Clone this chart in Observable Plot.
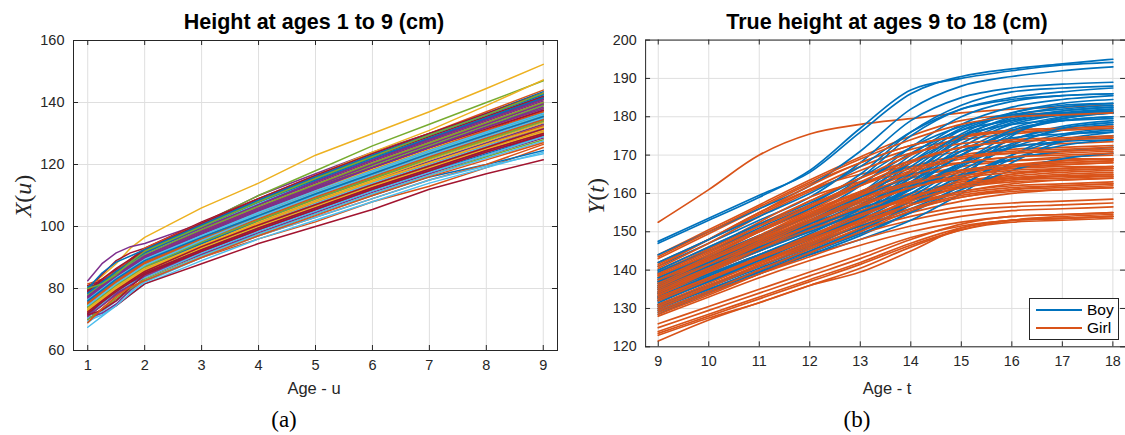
<!DOCTYPE html>
<html><head><meta charset="utf-8">
<script src="https://cdn.jsdelivr.net/npm/d3@7"></script>
<script src="https://cdn.jsdelivr.net/npm/@observablehq/plot@0.6"></script>
<style>
html,body{margin:0;padding:0;background:#fff}
body{width:1125px;height:435px;overflow:hidden;position:relative;font-family:"Liberation Sans",Arial,sans-serif;color:#262626}
.panel{position:absolute;top:0}
.title{position:absolute;top:10px;font-weight:bold;font-size:21.5px;color:#000;transform:translateX(-50%);white-space:nowrap;line-height:1.15}
.xlab{position:absolute;top:379px;font-size:16.5px;color:#262626;transform:translateX(-50%);white-space:nowrap;line-height:1.15}
.ylab{position:absolute;font-family:"Liberation Serif","Times New Roman",serif;font-size:24px;color:#262626;transform:translate(-50%,-50%) rotate(-90deg);white-space:nowrap}
.ylab i{font-style:italic}
.cap{position:absolute;top:407px;font-family:"Liberation Serif","Times New Roman",serif;font-size:23px;color:#000;transform:translateX(-50%);line-height:1.15}
.legend{position:absolute;left:1029px;top:298px;width:88px;height:40px;border:1px solid #262626;background:#fff;font-size:15.5px;color:#000}
.legend .row{position:absolute;left:6px;height:18px;display:flex;align-items:center}
.legend .sw{width:46px;height:2px;margin-right:5px}
</style>
</head><body>
<div id="left" class="panel" style="left:0"></div>
<div id="right" class="panel" style="left:562px"></div>
<div class="title" style="left:314px">Height at ages 1 to 9 (cm)</div>
<div class="title" style="left:887px">True height at ages 9 to 18 (cm)</div>
<div class="xlab" style="left:314px">Age - u</div>
<div class="xlab" style="left:887px">Age - t</div>
<div class="ylab" style="left:23px;top:196px"><i>X</i>(<i>u</i>)</div>
<div class="ylab" style="left:596px;top:196px"><i>Y</i>(<i>t</i>)</div>
<div class="cap" style="left:284px">(a)</div>
<div class="cap" style="left:857px">(b)</div>
<div class="legend">
  <div class="row" style="top:2px"><div class="sw" style="background:#0072BD"></div>Boy</div>
  <div class="row" style="top:20px"><div class="sw" style="background:#D95319"></div>Girl</div>
</div>
<script>
// ---------- data ----------
const matlabColors = ["#0072BD","#D95319","#EDB120","#7E2F8E","#77AC30","#4DBEEE","#A2142F"];
const leftAges = [1,1.25,1.5,1.75,2,3,4,5,6,7,8,9];
const leftXTicks = [1,2,3,4,5,6,7,8,9];
const leftYTicks = [60,80,100,120,140,160];
const leftHeights = [
[76,77.5,81,85.5,88,97,105,112,119,126,132,139],
[70,73,76.5,79.5,82.5,90,96,101.5,108,113,119,125.5],
[80.5,84,88,93,96.5,106,114,123,130,137,144.5,152.3],
[82.5,88,91.5,93.5,94.5,101,110,117,124,130,136,142],
[79,82,85.5,89,92,101,110,118,126,133,140,147],
[67.5,71,74.5,78,81.5,89,96,102,108,114,119,124],
[71.5,72,74.5,78,81.5,88,94.5,100,105.5,112,117,121.5],
[73,76,79,82,85,91,97.5,104,110,116,120,124.5],
[72,75,78,81,84,91,97,103,109,115,120,126.5],
[78,81.5,85,88.5,92,100,108,116.5,124,131,139,147.3],
[78,81,84,87,90,99,107,114.5,121.5,128,134.5,141],
[74,77,80,83,86,94,101,108,115,121,127,133],
[69,72.5,76,79,82,90,97,103,109,115,119.5,123.5],
[75,76.5,80,85,88,95.5,103,110,117,123.5,130,136],
[73.5,76.5,79.5,82.5,85.5,93,100,106.5,113,119,125,131],
[77,80,83,86.5,89.5,98,106,113,120,126.5,133,139.5],
[79.5,81,84,88,92,100.5,108.5,115.5,122.5,129,135.5,142.5],
[72.5,75.5,78.5,81.5,84.5,92,99,105.5,112,118,124,129.5],
[76.5,79.5,82.5,85.5,88.5,96,103.5,110.5,117.5,124,130.5,137],
[74.5,77.5,81,84,87,95,102.5,109.5,116,122.5,128.5,134.5],
[80,84.5,89,91.5,93,101.5,109,116,123,129.5,136,143],
[71.5,75,78,81,84,91.5,98.5,105,111.5,117.5,123.5,129],
[75.5,78.5,81.5,84.5,87.5,95,102,109,116,122.5,129,135.5],
[77.5,80.5,84,87,90,98.5,106.5,114,121,127.5,134,141],
[73,76,79.5,82.5,85.5,93.5,100.5,107,113.5,120,126,132],
[78.5,80,83,87,91,99.5,107.5,115,122,128.5,135,142],
[74,77,80.5,83.5,86.5,94.5,101.5,108.5,115,121.5,127.5,133.5],
[76,79,82.5,85.5,88.5,96.5,104,111,118,124.5,131,137.5],
[72,75.5,79,82,85,92.5,99.5,106,112.5,118.5,124.5,130],
[79,82,85.5,88.5,91.5,100,108,115,122,128.5,135,141.5],
[75,78,81,84,87,95,102,109,115.5,122,128,134],
[70.5,72,75,79.5,83.5,91,98,104.5,111,117,123,128.5],
[77,80,83.5,86.5,89.5,97.5,105,112,119,125.5,132,138.5],
[73.5,77,80,83,86,94,101,107.5,114,120.5,126.5,132.5],
[81,82.5,85,89,92.5,100,107.5,114.5,121.5,128,134.5,141],
[74.5,78,81,84,87,95.5,103,110,117,123.5,130,136.5],
[76.5,80,83,86,89,97,104.5,111.5,118.5,125,131.5,138],
[71,74.5,78,81,84,92,99,105.5,112,118,124,130],
[78,81,84.5,87.5,90.5,99,107,114,121,127.5,134,140.5],
[75.5,79,82,85,88,96,103.5,110.5,117,123.5,129.5,135.5],
[73,76.5,80,83,86,93.5,100.5,107.5,114,120,126,132.5],
[79.5,82.5,86,89,92,100,107.5,115,122,128.5,135,141.5],
[77.5,80.5,83.5,86.5,89.5,97.5,104.5,111.5,118,124.5,130.5,136.5],
[72.5,77,80.5,83,85,93,100,106.5,113,119,125,131],
[76,79.5,83,86,89,97,104.5,111.5,118.5,125,131.5,138],
[74,77.5,81,84,87,94.5,101.5,108.5,115,121,127,133],
[70,73.5,77,80,83,90.5,97.5,104,110.5,116.5,122.5,128],
[78,81.5,85,88,91,99.5,107.5,115,122,129,135.5,142.5],
[75,78.5,82,85,88,96,103,110,116.5,123,129,135],
[80.5,82,85,89,92.5,101,108.5,116,123,129.5,136.5,143.5],
[73.5,77,80.5,83.5,86.5,94,101,108,114.5,120.5,126.5,132.5],
[76.5,79.5,83,86,89,96.5,103.5,110.5,117,123.5,129.5,135.5],
[71.5,75,78.5,81.5,84.5,92.5,99.5,106,112.5,118.5,124.5,130.5],
[77,80.5,84,87,90,98,105.5,112.5,119.5,126,132.5,139],
[74.5,78,81.5,84.5,87.5,95,102,109,115.5,121.5,127.5,133.5],
[79,82.5,86,89,92,100.5,108,115.5,122.5,129,135.5,142],
[72,75.5,79,82,85,93,100,107,113.5,119.5,125.5,131.5],
[75.5,79,82.5,85.5,88.5,96.5,104,111,118,124.5,131,137],
[73,76.5,80,83,86,94,101.5,108.5,115,121.5,127.5,133.5],
[78.5,82,85.5,88.5,91.5,99.5,107,114.5,121.5,128,134.5,141],
[76,79.5,83,86,89,97.5,105.5,113,120,126.5,133,139.5],
[70.5,75,79,81.5,83.5,91.5,98.5,105,111.5,117.5,123,129],
[77.5,81,84,87,90,98,105.5,112.5,119,125.5,131.5,137.5],
[74,77.5,81,84,87,95,102.5,109.5,116,122.5,128.5,134.5],
[81.5,83,85.5,89.5,93,101,109,116.5,123.5,130,137,144],
[72.5,76,79.5,82.5,85.5,93,100,106.5,113,119,125,130.5],
[76.5,80,83.5,86.5,89.5,97.5,105,112,119,125.5,132,138.5],
[75,78.5,82,85,88,96,103.5,110.5,117.5,124,130,136],
[69.5,71.5,74.5,78.5,82.5,90.5,97.5,104,110.5,116.5,122,127.5],
[79.5,83,86.5,89.5,92.5,101,109,116.5,123.5,130,136.5,143],
[73.5,77,80.5,83.5,86.5,94.5,102,109,115.5,122,128,134],
[77,80.5,84,87,90,98.5,106,113.5,120.5,127,133.5,140],
[74.5,78,81.5,84.5,87.5,95.5,102.5,109.5,116,122,128,134],
[71,74.5,78,81,84,92,99,105.5,112,118,124,129.5],
[78,81.5,85,88,91,99,106.5,113.5,120.5,127,133.5,140],
[76,79.5,83,86,89,97,104,111,117.5,124,130,136],
[72,75.5,79,82,85,92.5,99.5,106,112.5,118.5,124.5,130],
[80,85,88.5,90.5,92.5,100.5,108.5,116,123,129.5,136,142.5],
[75.5,79,82.5,85.5,88.5,96,103,110,116.5,123,129,135],
[73,76.5,80,83,86,93.5,100.5,107,113.5,119.5,125.5,131],
[77.5,81,84.5,87.5,90.5,98.5,106,113,120,126.5,133,139.5],
[74,77.5,81,84,87,95,102,109,115.5,122,128,134],
[76.5,80,83.5,86.5,89.5,97,104.5,111.5,118,124.5,130.5,136.5],
[71.5,73,76,80.5,84.5,92,99,105.5,112,118,124,129.5],
[78.5,82,85.5,88.5,91.5,100,108,115,122,128.5,135,141.5],
[75,78.5,82,85,88,95.5,102.5,109.5,116,122.5,128.5,134.5],
[73.5,77,80.5,83.5,86.5,94,101,108,114.5,120.5,126.5,132],
[77,80.5,84,87,90,98,105.5,112.5,119,125.5,132,138],
[80,81.5,84.5,88.5,92,100,108,115.5,122.5,129.5,136,143],
[74.5,78,81.5,84.5,87.5,95.5,103,110,116.5,123,129,135],
[72.5,76,79.5,82.5,85.5,93.5,100.5,107,113.5,119.5,125.5,131.5],
[76,79.5,83,86,89,96.5,103.5,110.5,117,123.5,129.5,135.5],
[69,73.5,77.5,80.5,82.5,90,97,103.5,110,116,121.5,127]
];

const rightAges = [9,10,11,12,13,14,15,16,17,18];
const rightXTicks = [9,10,11,12,13,14,15,16,17,18];
const rightYTicks = [120,130,140,150,160,170,180,190,200];
const sexes = ["Boy","Girl"];
const sexColors = ["#0072BD","#D95319"];
const boyHeights = [
[147.5,153.5,159.5,165.5,176,186,190.5,192.5,193.8,195],
[147,153,159,166,177,187,190,192,193.5,194.2],
[144,150,156,162,171,182,188,190.5,192,193],
[141,147,153,159,168,179,185,187.5,188.5,189],
[139,145,151,157,165,176,183,186.5,187.5,188],
[138,144,150,156,164,175,182,185,186.5,187.5],
[137,143,149,154.5,162,172,180,184,185.5,186],
[136,142,147.5,153,160,170,178,182.5,184.5,185.5],
[135.5,141,146.5,152,159,169,177,181,183,183.5],
[135,140.5,146,151.5,158,168,176.5,180.5,182,183],
[134,139.5,145,150.5,157,166,175,179.5,181.5,182.5],
[133.5,139,144,149,155,164,173,178.5,181,182],
[133,138.5,143.5,148.5,154.5,163,172,178,180.5,181.5],
[132,137.5,143,148,154,162,170,176,179.5,181],
[131.5,137,142,147,153,160,168,174,177.5,179],
[131,136,141,146,152,159,167,173,176.5,178],
[130,135.5,140.5,145.5,151,158,166,172,175.5,177],
[129,134.5,139.5,144.5,150,157,164,170,174,176],
[128.5,134,139,144,149,155,162,169,172.5,174],
[136,141.5,147,152.5,158,163,171,177,180,181],
[138,143.5,149,154,159,165,174,179,181.5,182.5],
[134,139,144,148.5,153,157,164,175,180,182],
[132.5,137.5,142.5,147,151.5,156,162,170,175,176.5],
[130.5,135,139.5,144,148,153,160,168,173.5,175],
[137.5,143,148.5,154,160,168,175,178,179,179.5],
[139.5,145,150.5,156,162.5,170.5,176.5,179,180.5,181],
[140,146,152,157.5,164,172,177.5,180,181,181.5],
[135,140,145.5,151,156.5,164,171,174.5,175.5,176],
[133,138,143,148,153.5,161,168,172,173.5,174],
[131,136,141,146.5,152,158,164.5,169,171,172],
[129.5,134.5,139.5,144.5,149.5,155,161,166,169,170.5],
[136.5,142,147,152,157,162.5,170,176,179,180],
[134.5,140,145,150,155,160,167.5,174,177,178.5],
[142,148,154,160,167,176,182,184.5,185.5,186],
[133,138.5,144,149.5,156,165,174.5,180,182.5,183.5],
[130,135,140,145,150.5,157,165,172.5,177,178.5],
[137,142,147.5,153,159,167,175.5,181,183.5,184.5],
[132,137,142.5,148,154,161.5,170,176.5,179,180],
[135.5,141,146,151,156,161,168,175.5,179.5,181]
];
const girlHeights = [
[152.5,161,170,175.5,178,179.5,181,182,182.5,183],
[144,150.5,157,163.5,169.5,175,179,180.5,181,181.5],
[143,149.5,156,162.5,168,172.5,175,176.5,177,177.5],
[142,148,154.5,161,167,171.5,174,175.5,176.5,177],
[141,148,155,161,165,167,168,168.5,169,169],
[140,146,152,158,164,168.5,171,172.5,173,173.5],
[139.5,145.5,151.5,157,162.5,167,170,171.5,172,172.5],
[139,145.5,152.5,159,163,165,166,166.5,167,167],
[138.5,144,150,155.5,160.5,165,168,169.5,170.5,171],
[138,143.5,149,154.5,159.5,164,167,168.5,169.5,170],
[137.5,143,148.5,154,159,163,166,167.5,168.5,169],
[137,142.5,148,153,158,162,165,167,168,168.5],
[136.5,142,147.5,152.5,157.5,161.5,164.5,166.5,167.5,168],
[136,142,148.5,155,160,162.5,163.5,164,164.5,164.5],
[135.5,141,146.5,151.5,156,160,163,165,166,166.5],
[135,140.5,146,151,155.5,159.5,162.5,164.5,165.5,166],
[134.5,140,145.5,150.5,155,159,162,164,165,165.5],
[134,139.5,145,150,154.5,158.5,161.5,163.5,164.5,165],
[133.5,139,144,149,153.5,157.5,160.5,162.5,163.5,164],
[133,137.5,142,146.5,151.5,157,162,165,166.5,167],
[132.5,138,143,148,152.5,156,159,161,162,162.5],
[132,137,142,147,151.5,155,158,160,161,161.5],
[131,136,141,146,150.5,154,156.5,157.5,158,158.5],
[130,135,140,145,149.5,153,155.5,156.5,157,157.5],
[129,134,139,143.5,148,151.5,154,155.5,156,156.5],
[128,133,138,142.5,146.5,150,152.5,154,154.5,155],
[126,130.5,135,139.5,144,148.5,151.5,153,153.5,154],
[125,129.5,134,138.5,143,148,152,154,154.5,155],
[124,128.5,133,137.5,142,147,151,153,153.5,154],
[123.5,128,132.5,137,141.5,146.5,150.5,152.5,153,153.5],
[123,127.5,131.5,136,140.5,146,150.5,153,154,154.5],
[121.5,127,131.5,136,139.5,145,151,153,153.5,154],
[141.5,148,155,162,168,172.5,175,176.5,177,177.5],
[140.5,147,154,160.5,166,170.5,173,174,174.5,175],
[139,145,151.5,158,164,170,174.5,176,176.5,177],
[137,143,149,155.5,162,168,172,173.5,174,174.5],
[136,142,148,154,160,165.5,169,170.5,171,171.5],
[135,141,147,153,158.5,163,166,167.5,168,168.5],
[134,140,145.5,151,156.5,161.5,164.5,166,166.5,167],
[133,138,143,148,153,158.5,163.5,167,168.5,169],
[132,137.5,143,148.5,154,159,162.5,164,164.5,165],
[131,136.5,142,147.5,153,158,161.5,163,163.5,164],
[130,135.5,141,146.5,152,157,160.5,162,162.5,163],
[129.5,134.5,140,145.5,151,156,159.5,161,161.5,162],
[128.5,133.5,139,144.5,150,155.5,159,160.5,161,161.5],
[137.5,143.5,150,156.5,163,168.5,172,173.5,174,174.5],
[138.5,144.5,150.5,156.5,162,166.5,169.5,171,171.5,172],
[136.5,142.5,148.5,154.5,160.5,166,169.5,170.5,171,171.5],
[135.5,141.5,147.5,153.5,159.5,164.5,168,169.5,170,170.5],
[134.5,140.5,146.5,152.5,158,162.5,165.5,167,167.5,168],
[133.5,139.5,145.5,151.5,157,161.5,164,165.5,166,166.5],
[132.5,138,143.5,149,154.5,159,162,163.5,164,164.5],
[143.5,150,156.5,163,169,174,178,180,180.5,181],
[130.5,136,141.5,147,152.5,157,160,161.5,162,162.5]
];

// ---------- tidy tables ----------
const leftData = leftHeights.flatMap((row, i) => row.map((h, j) => ({id: i, c: i % matlabColors.length, age: leftAges[j], h})));
// interleave boys and girls so neither group is always drawn on top
const rightData = [];
for (let k = 0; k < Math.max(boyHeights.length, girlHeights.length); k++) {
  if (k < girlHeights.length) girlHeights[k].forEach((h, j) => rightData.push({id: "g" + k, sex: "Girl", age: rightAges[j], h}));
  if (k < boyHeights.length) boyHeights[k].forEach((h, j) => rightData.push({id: "b" + k, sex: "Boy", age: rightAges[j], h}));
}

const gridColor = "#dfdfdf";
const axisColor = "#262626";
const fontFamily = "'Liberation Sans', Arial, sans-serif";

function panel({width, marginLeft, marginRight, xDomain, yDomain, xTicks, yTicks, lineMark, colorOpts}) {
  const marginTop = 40, marginBottom = 85, height = 435;
  const fh = height - marginTop - marginBottom;
  const fw = width - marginLeft - marginRight;
  const tl = 5;
  return Plot.plot({
    width, height, marginLeft, marginRight, marginTop, marginBottom,
    style: {fontFamily, fontSize: "14.5px", color: axisColor, background: "transparent", overflow: "hidden"},
    x: {domain: xDomain, ticks: xTicks, label: null},
    y: {domain: yDomain, ticks: yTicks, label: null},
    color: colorOpts,
    marks: [
      Plot.gridX(xTicks, {stroke: gridColor, strokeOpacity: 1}),
      Plot.gridY(yTicks, {stroke: gridColor, strokeOpacity: 1}),
      lineMark,
      Plot.tickX(xTicks, {x: d => d, stroke: axisColor, insetTop: fh - tl}),
      Plot.tickX(xTicks, {x: d => d, stroke: axisColor, insetBottom: fh - tl}),
      Plot.tickY(yTicks, {y: d => d, stroke: axisColor, insetRight: fw - tl}),
      Plot.tickY(yTicks, {y: d => d, stroke: axisColor, insetLeft: fw - tl}),
      Plot.axisX(xTicks, {tickSize: 0, tickPadding: 9, fontSize: 14.5, fill: axisColor, label: null}),
      Plot.axisY(yTicks, {tickSize: 0, tickPadding: 9, fontSize: 14.5, fill: axisColor, label: null}),
      Plot.frame({stroke: axisColor, strokeWidth: 1})
    ]
  });
}

const leftPlot = panel({
  width: 562, marginLeft: 73, marginRight: 5,
  xDomain: [0.75, 9.25], yDomain: [60, 160], xTicks: leftXTicks, yTicks: leftYTicks,
  colorOpts: {type: "ordinal", domain: d3.range(matlabColors.length), range: matlabColors},
  lineMark: Plot.line(leftData, {x: "age", y: "h", z: "id", stroke: "c", strokeWidth: 1.5})
});
document.getElementById("left").appendChild(leftPlot);

const rightPlot = panel({
  width: 569, marginLeft: 84, marginRight: 0,
  xDomain: [8.75, 18.25], yDomain: [120, 200], xTicks: rightXTicks, yTicks: rightYTicks,
  colorOpts: {type: "ordinal", domain: sexes, range: sexColors},
  lineMark: Plot.line(rightData, {x: "age", y: "h", z: "id", stroke: "sex", strokeWidth: 1.7, curve: "monotone-x"})
});
document.getElementById("right").appendChild(rightPlot);
</script>
</body></html>
